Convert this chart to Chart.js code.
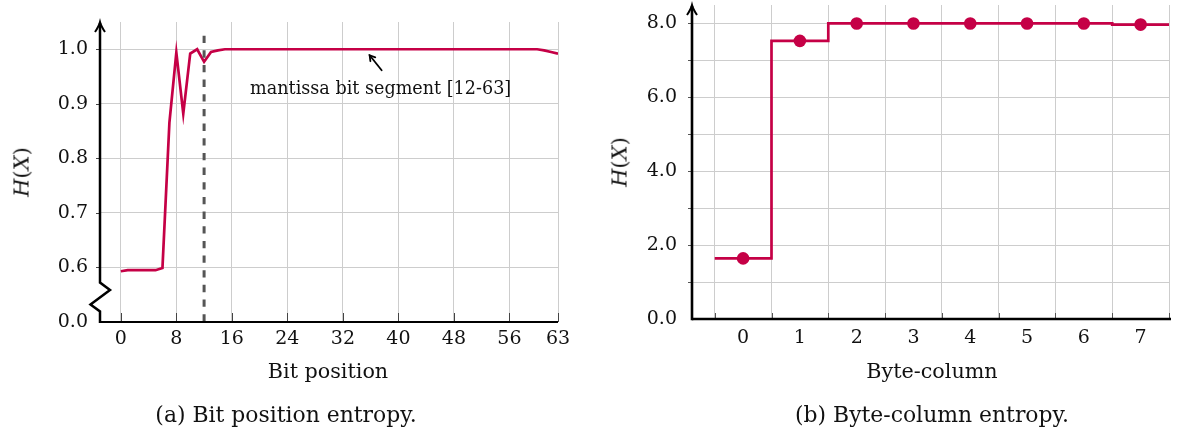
<!DOCTYPE html>
<html><head><meta charset="utf-8">
<script src="https://cdn.jsdelivr.net/npm/chart.js@4.4.1/dist/chart.umd.min.js"></script>
<style>
html,body{margin:0;padding:0;background:#fff;width:1177px;height:433px;overflow:hidden;font-family:"DejaVu Serif",serif;color:#111;}
.cv{position:absolute;top:0;}
#c1wrap{left:0;width:590px;height:360px;}
#c2wrap{left:600px;width:577px;height:360px;}
.t{position:absolute;white-space:nowrap;line-height:1;}
.ytitle{transform:translate(-50%,-50%) rotate(-90deg);}
.ctr{transform:translateX(-50%);}
</style></head>
<body>
<div id="c1wrap" class="cv"><canvas id="c1" width="590" height="360"></canvas></div>
<div id="c2wrap" class="cv"><canvas id="c2" width="577" height="360"></canvas></div>
<div class="t ytitle" style="left:22px;top:172px;font-size:21px;"><i>H</i>(<i>X</i>)</div>
<div class="t ytitle" style="left:620px;top:162px;font-size:21px;"><i>H</i>(<i>X</i>)</div>
<div class="t ctr" style="left:328px;top:361px;font-size:20.7px;">Bit position</div>
<div class="t ctr" style="left:932px;top:361px;font-size:20.7px;">Byte-column</div>
<div class="t ctr" style="left:286px;top:404px;font-size:21.9px;">(a) Bit position entropy.</div>
<div class="t ctr" style="left:932px;top:404px;font-size:21.9px;">(b) Byte-column entropy.</div>
<script>
// ---------- data: chart (a) ----------
const bitEntropy = [
  0.593, 0.595, 0.595, 0.595, 0.595, 0.595, 0.599, 0.865,
  0.994, 0.882, 0.992, 1.000, 0.977, 0.995, 0.998, 1.000,
  1.000, 1.000, 1.000, 1.000, 1.000, 1.000, 1.000, 1.000,
  1.000, 1.000, 1.000, 1.000, 1.000, 1.000, 1.000, 1.000,
  1.000, 1.000, 1.000, 1.000, 1.000, 1.000, 1.000, 1.000,
  1.000, 1.000, 1.000, 1.000, 1.000, 1.000, 1.000, 1.000,
  1.000, 1.000, 1.000, 1.000, 1.000, 1.000, 1.000, 1.000,
  1.000, 1.000, 1.000, 1.000, 1.000, 0.998, 0.995, 0.992
];
const bitXTicks = [0, 8, 16, 24, 32, 40, 48, 56, 63];
const bitYTicks = [0.5, 0.6, 0.7, 0.8, 0.9, 1.0];
const bitYLabels = ['0.0', '0.6', '0.7', '0.8', '0.9', '1.0'];
const mantissaStart = 12;
const annotationText = 'mantissa bit segment [12-63]';
const annotationBit = 36;
const annotationValue = 1.0;

// ---------- data: chart (b) ----------
const byteColumns = [0, 1, 2, 3, 4, 5, 6, 7];
const byteEntropy = [1.64, 7.53, 8.00, 8.00, 8.00, 8.00, 8.00, 7.97];
const byteGridLines = [-0.5, 0.5, 1.5, 2.5, 3.5, 4.5, 5.5, 6.5, 7.5];
const byteYTicks = [0, 1, 2, 3, 4, 5, 6, 7, 8];
const byteYLabels = ['0.0', '', '2.0', '', '4.0', '', '6.0', '', '8.0'];

const RED = '#c50046';
const GRID = '#cdcdcd';
const FONT = 'DejaVu Serif';
Chart.defaults.font.family = FONT;
Chart.defaults.font.size = 19;
Chart.defaults.color = '#111';

function arrowUp(ctx, x, y) {
  ctx.beginPath();
  ctx.moveTo(x - 5, y + 10);
  ctx.quadraticCurveTo(x - 1, y + 4, x, y);
  ctx.quadraticCurveTo(x + 1, y + 4, x + 5, y + 10);
  ctx.stroke();
}
function noPad(s) { s.paddingTop = 0; s.paddingBottom = 0; s.paddingLeft = 0; s.paddingRight = 0; }

// ---------- chart (a) ----------
const leftDecor = {
  id: 'leftDecor',
  afterDatasetsDraw(chart) {
    const {ctx, chartArea: a, scales: {x, y}} = chart;
    ctx.save();
    const dx = x.getPixelForValue(mantissaStart);
    ctx.strokeStyle = '#555';
    ctx.lineWidth = 3;
    ctx.setLineDash([7.33, 7.33]);
    ctx.beginPath();
    ctx.moveTo(dx, y.getPixelForValue(1.025));
    ctx.lineTo(dx, a.bottom);
    ctx.stroke();
    ctx.setLineDash([]);
    const px = x.getPixelForValue(annotationBit), py = y.getPixelForValue(annotationValue);
    const tipX = px - 1, tipY = py + 6, tailX = px + 11, tailY = py + 21;
    ctx.strokeStyle = '#000';
    ctx.lineWidth = 1.8;
    ctx.lineCap = 'round';
    ctx.beginPath();
    ctx.moveTo(tailX, tailY);
    ctx.lineTo(tipX, tipY);
    ctx.stroke();
    const ang = Math.atan2(tipY - tailY, tipX - tailX);
    ctx.beginPath();
    ctx.moveTo(tipX - 6 * Math.cos(ang - 0.55), tipY - 6 * Math.sin(ang - 0.55));
    ctx.lineTo(tipX, tipY);
    ctx.lineTo(tipX - 6 * Math.cos(ang + 0.55), tipY - 6 * Math.sin(ang + 0.55));
    ctx.stroke();
    ctx.fillStyle = '#111';
    ctx.font = '17.6px "' + FONT + '"';
    ctx.textAlign = 'center';
    ctx.textBaseline = 'alphabetic';
    ctx.fillText(annotationText, px + 10, py + 45);
    ctx.restore();
  },
  afterDraw(chart) {
    const {ctx, chartArea: a, scales: {x, y}} = chart;
    ctx.save();
    ctx.strokeStyle = '#444';
    ctx.lineWidth = 1;
    bitXTicks.forEach(v => {
      const p = Math.round(x.getPixelForValue(v)) + 0.5;
      ctx.beginPath(); ctx.moveTo(p, a.bottom); ctx.lineTo(p, a.bottom - 9); ctx.stroke();
    });
    bitYTicks.slice(1).forEach(v => {
      const p = Math.round(y.getPixelForValue(v)) + 0.5;
      ctx.beginPath(); ctx.moveTo(a.left - 4, p); ctx.lineTo(a.left, p); ctx.stroke();
    });
    ctx.strokeStyle = '#000';
    ctx.lineWidth = 2.2;
    ctx.beginPath(); ctx.moveTo(a.left, a.bottom); ctx.lineTo(a.right, a.bottom); ctx.stroke();
    const L = a.left, B = a.bottom;
    ctx.lineWidth = 2.5;
    ctx.lineJoin = 'miter';
    ctx.beginPath();
    ctx.moveTo(L, a.top + 1);
    ctx.lineTo(L, B - 39.5);
    ctx.lineTo(L + 10, B - 32);
    ctx.lineTo(L - 9.5, B - 17.5);
    ctx.lineTo(L, B - 10.5);
    ctx.lineTo(L, B + 1);
    ctx.stroke();
    ctx.lineWidth = 2;
    arrowUp(ctx, L, a.top);
    ctx.restore();
  }
};

new Chart(document.getElementById('c1'), {
  type: 'line',
  data: {
    datasets: [{
      data: bitEntropy.map((v, i) => ({x: i, y: v})),
      borderColor: RED,
      borderWidth: 2.7,
      pointRadius: 0,
      tension: 0,
      fill: false
    }]
  },
  options: {
    responsive: false,
    animation: false,
    layout: {autoPadding: false, padding: {top: 22, right: 32, left: 0, bottom: 0}},
    plugins: {legend: {display: false}, tooltip: {enabled: false}},
    scales: {
      x: {
        type: 'linear', min: -3, max: 63,
        afterBuildTicks: s => { s.ticks = bitXTicks.map(v => ({value: v})); },
        afterFit: s => { s.height = 38; noPad(s); },
        grid: {color: GRID, lineWidth: 1, drawTicks: false},
        border: {display: false},
        ticks: {padding: 6, autoSkip: false, maxRotation: 0, callback: v => String(v)}
      },
      y: {
        type: 'linear', min: 0.5, max: 1.05,
        afterBuildTicks: s => { s.ticks = bitYTicks.map(v => ({value: v})); },
        afterFit: s => { s.width = 100; noPad(s); },
        grid: {color: c => (c.index === 0 ? 'rgba(0,0,0,0)' : GRID), lineWidth: 1, drawTicks: false},
        border: {display: false},
        ticks: {padding: 12, autoSkip: false, callback: (v, i) => bitYLabels[i]}
      }
    }
  },
  plugins: [leftDecor]
});

// ---------- chart (b) ----------
const stepPoints = byteEntropy.map((v, i) => ({x: byteColumns[i] - 0.5, y: v}));
stepPoints.push({x: byteColumns[byteColumns.length - 1] + 0.5, y: byteEntropy[byteEntropy.length - 1]});

const rightDecor = {
  id: 'rightDecor',
  afterDraw(chart) {
    const {ctx, chartArea: a, scales: {x, y}} = chart;
    ctx.save();
    ctx.strokeStyle = '#555';
    ctx.lineWidth = 1;
    byteGridLines.forEach(v => {
      const p = Math.round(x.getPixelForValue(v)) + 0.5;
      ctx.beginPath(); ctx.moveTo(p, a.bottom); ctx.lineTo(p, a.bottom - 6); ctx.stroke();
    });
    byteYTicks.slice(1).forEach(v => {
      const p = Math.round(y.getPixelForValue(v)) + 0.5;
      ctx.beginPath(); ctx.moveTo(a.left - 4, p); ctx.lineTo(a.left, p); ctx.stroke();
    });
    ctx.strokeStyle = '#000';
    ctx.lineWidth = 2.6;
    ctx.beginPath(); ctx.moveTo(a.left, a.bottom); ctx.lineTo(a.right + 2, a.bottom); ctx.stroke();
    ctx.beginPath(); ctx.moveTo(a.left, a.bottom + 1.3); ctx.lineTo(a.left, a.top + 1); ctx.stroke();
    ctx.lineWidth = 2;
    arrowUp(ctx, a.left, a.top);
    ctx.restore();
  }
};

new Chart(document.getElementById('c2'), {
  type: 'line',
  data: {
    datasets: [
      {
        data: byteEntropy.map((v, i) => ({x: byteColumns[i], y: v})),
        showLine: false,
        pointRadius: 6.3,
        pointBackgroundColor: RED,
        pointBorderColor: RED,
        pointBorderWidth: 0
      },
      {
        data: stepPoints,
        stepped: true,
        borderColor: RED,
        borderWidth: 2.7,
        pointRadius: 0,
        fill: false
      }
    ]
  },
  options: {
    responsive: false,
    animation: false,
    layout: {autoPadding: false, padding: {top: 5, right: 8, left: 0, bottom: 0}},
    plugins: {legend: {display: false}, tooltip: {enabled: false}},
    scales: {
      x: {
        type: 'linear', min: -0.9, max: 7.5,
        afterBuildTicks: s => {
          s.ticks = byteGridLines.concat(byteColumns).sort((p, q) => p - q).map(v => ({value: v}));
        },
        afterFit: s => { s.height = 41; noPad(s); },
        grid: {color: c => (c.tick && Number.isInteger(c.tick.value) ? 'rgba(0,0,0,0)' : GRID), lineWidth: 1, drawTicks: false},
        border: {display: false},
        ticks: {padding: 8, autoSkip: false, maxRotation: 0, callback: v => (Number.isInteger(v) ? String(v) : '')}
      },
      y: {
        type: 'linear', min: 0, max: 8.5,
        afterBuildTicks: s => { s.ticks = byteYTicks.map(v => ({value: v})); },
        afterFit: s => { s.width = 92; noPad(s); },
        grid: {color: c => (c.index === 0 ? 'rgba(0,0,0,0)' : GRID), lineWidth: 1, drawTicks: false},
        border: {display: false},
        ticks: {padding: 15, autoSkip: false, callback: (v, i) => byteYLabels[i]}
      }
    }
  },
  plugins: [rightDecor]
});
</script>
</body></html>
